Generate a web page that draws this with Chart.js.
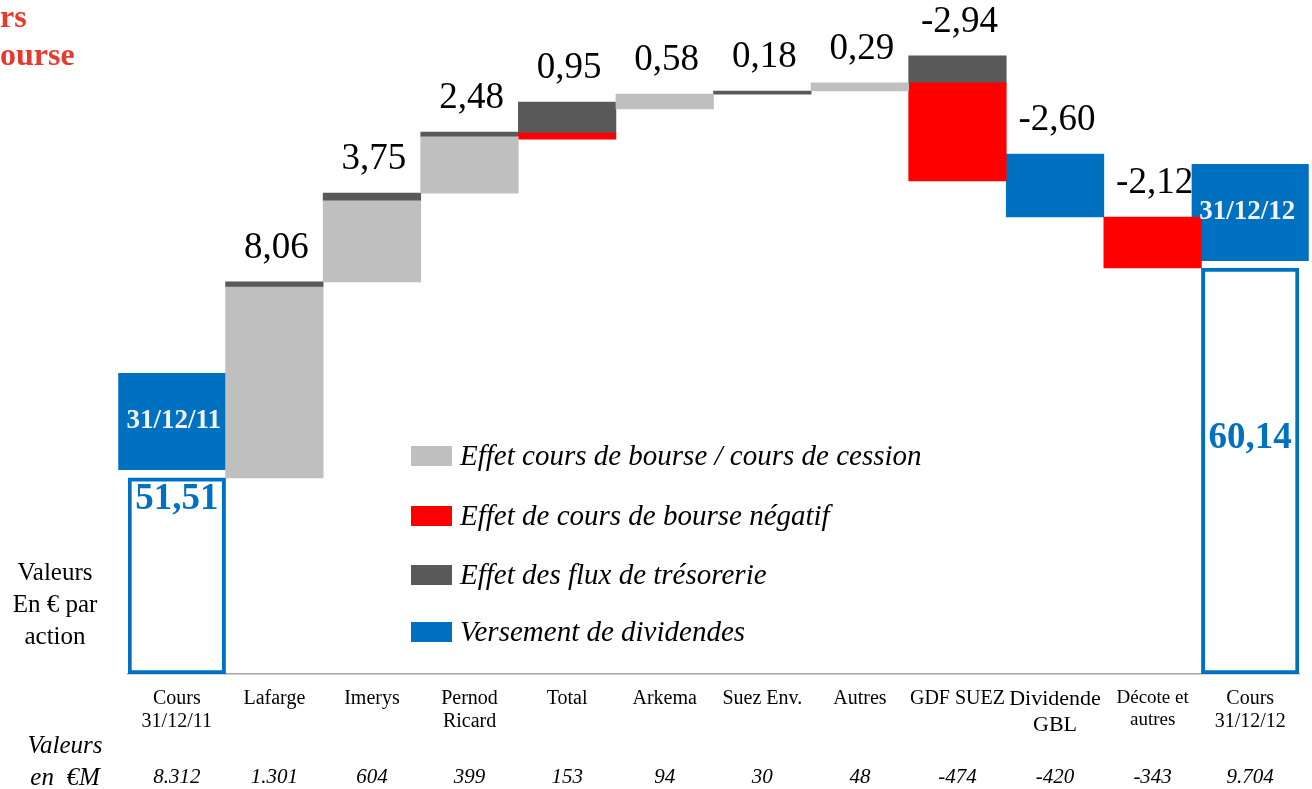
<!DOCTYPE html>
<html>
<head>
<meta charset="utf-8">
<script src="https://cdn.jsdelivr.net/npm/chart.js@4.4.1/dist/chart.umd.min.js"></script>
<style>
body { margin: 0; background: #fff; }
#wrap { position: relative; width: 1312px; height: 789px; overflow: hidden; font-family: 'Liberation Serif', 'Times New Roman', serif; }
canvas { position: absolute; left: 0; top: 0; }
.titre { position: absolute; left: 0; color: #E8392F; font-weight: bold; font-size: 32px; line-height: 36px; }
.cote { position: absolute; left: 0; width: 110px; text-align: center; font-size: 25px; line-height: 32px; color: #000; }
.em { font-style: italic; left: 10px; }
</style>
</head>
<body>
<div id="wrap">
  <canvas id="waterfall" width="1312" height="789"></canvas>
  <div class="titre" style="top:-2px">rs</div>
  <div class="titre" style="top:36px">ourse</div>
  <div class="cote" style="top:556px">Valeurs<br>En € par<br>action</div>
  <div class="cote em" style="top:729px">Valeurs<br>en&nbsp;&nbsp;€M</div>
</div>
<script>
// categories (tick labels)
const categories = [['Cours', '31/12/11'], 'Lafarge', 'Imerys', ['Pernod', 'Ricard'], 'Total', 'Arkema',
    'Suez Env.', 'Autres', 'GDF SUEZ', ['Dividende', 'GBL'], ['Décote et', 'autres'], ['Cours', '31/12/12']];

// variation par action (€) shown above each step
const variations = [null, 8.06, 3.75, 2.48, 0.95, 0.58, 0.18, 0.29, -2.94, -2.60, -2.12, null];

// valeurs en €M (bottom row)
const valeursEnMillions = ['8.312', '1.301', '604', '399', '153', '94', '30', '48', '-474', '-420', '-343', '9.704'];

// floating segments [bas, haut] in € per share
const coursBourse = [null, [51.51, 59.36], [59.57, 62.90], [63.22, 65.53], null, [66.68, 67.29], null,
    [67.42, 67.75], null, null, null, null];
const coursNegatif = [null, null, null, null, [65.44, 65.69], null, null, null, [63.72, 67.75], null,
    [60.14, 62.24], null];
const fluxTresorerie = [null, [59.36, 59.57], [62.90, 63.22], [65.53, 65.73], [65.69, 66.96], null,
    [67.29, 67.42], null, [67.75, 68.86], null, null, null];
const dividendes = [null, null, null, null, null, null, null, null, null, [62.24, 64.83], null, null];

// valeur de l'action au début / fin
const valeurAction = [[43.45, 51.51], null, null, null, null, null, null, null, null, null, null, [43.45, 60.14]];
const valeurTextes = ['51,51', '', '', '', '', '', '', '', '', '', '', '60,14'];
const dateBoites = [[51.84, 55.83], null, null, null, null, null, null, null, null, null, null, [60.43, 64.42]];
const dateTextes = ['31/12/11', '', '', '', '', '', '', '', '', '', '', '31/12/12'];

const yMin = 43.45;
const yMax = 71.16;

const serif = "'Liberation Serif', 'Times New Roman', serif";

// text labels drawn on top of the bars
const labelsPlugin = {
    id: 'labels',
    afterDatasetsDraw(chart) {
        const ctx = chart.ctx;
        const x = chart.scales.x;
        const y = chart.scales.y;
        ctx.save();
        ctx.textAlign = 'center';
        ctx.textBaseline = 'middle';

        // variation values above each step
        ctx.font = '37px ' + serif;
        ctx.fillStyle = '#000';
        variations.forEach(function(v, i) {
            if (v === null) return;
            var top = Math.max(...[coursBourse, coursNegatif, fluxTresorerie, dividendes]
                .filter(arr => arr[i]).map(arr => arr[i][1]));
            ctx.fillText(v.toFixed(2).replace('.', ','), x.getPixelForValue(i) + 2, y.getPixelForValue(top) - 34);
        });

        // values inside outline boxes
        var metaBox = chart.getDatasetMeta(4);
        var anchors = [0.11, 0.42];
        ctx.font = 'bold 37px ' + serif;
        ctx.fillStyle = '#0070C0';
        var k = 0;
        valeurTextes.forEach(function(t, i) {
            if (!t) return;
            var el = metaBox.data[i];
            ctx.fillText(t, el.x, el.y + (el.base - el.y) * anchors[k++]);
        });

        // dates in blue label boxes
        var metaDate = chart.getDatasetMeta(5);
        ctx.font = 'bold 27px ' + serif;
        ctx.fillStyle = '#F2F2F2';
        dateTextes.forEach(function(t, i) {
            if (!t) return;
            var el = metaDate.data[i];
            ctx.fillText(t, el.x - 3, (el.y + el.base) / 2);
        });

        // bottom row: valeurs en €M
        ctx.font = 'italic 21px ' + serif;
        ctx.fillStyle = '#000';
        valeursEnMillions.forEach(function(t, i) {
            ctx.fillText(t, x.getPixelForValue(i), 777);
        });

        // legend
        var rows = [456, 516, 575, 632];
        ctx.textAlign = 'left';
        ctx.font = 'italic 29px ' + serif;
        for (var d = 0; d < 4; d++) {
            var ds = chart.data.datasets[d];
            ctx.fillStyle = ds.backgroundColor;
            ctx.fillRect(411, rows[d] - 10, 41, 20);
            ctx.fillStyle = '#000';
            ctx.fillText(ds.label, 460, rows[d] + 1);
        }
        ctx.restore();
    }
};

new Chart(document.getElementById('waterfall'), {
    type: 'bar',
    data: {
        labels: categories,
        datasets: [{
            label: 'Effet cours de bourse / cours de cession',
            data: coursBourse,
            backgroundColor: '#BFBFBF'
        }, {
            label: 'Effet de cours de bourse négatif',
            data: coursNegatif,
            backgroundColor: '#FF0000'
        }, {
            label: 'Effet des flux de trésorerie',
            data: fluxTresorerie,
            backgroundColor: '#595959'
        }, {
            label: 'Versement de dividendes',
            data: dividendes,
            backgroundColor: '#0070C0'
        }, {
            label: 'Valeur',
            data: valeurAction,
            backgroundColor: '#FFFFFF',
            borderColor: '#0070C0',
            borderWidth: 4,
            borderSkipped: false
        }, {
            label: 'Date',
            data: dateBoites,
            backgroundColor: '#0070C0',
            barPercentage: 1.2,
            clip: false,
            order: 10
        }]
    },
    options: {
        responsive: false,
        animation: false,
        barPercentage: 1,
        categoryPercentage: 1,
        layout: { padding: { left: 128, right: 13, top: 0, bottom: 0 } },
        plugins: {
            legend: { display: false },
            tooltip: { enabled: false }
        },
        scales: {
            x: {
                stacked: true,
                grid: { display: false, drawTicks: false },
                border: { display: true, color: '#A6A6A6', width: 1.5 },
                ticks: {
                    color: '#000',
                    padding: 13,
                    maxRotation: 0,
                    autoSkip: false,
                    font: function(c) {
                        var size = 20;
                        if (c.index === 9) size = 22;
                        if (c.index === 10) size = 19;
                        return { family: serif, size: size, lineHeight: 1.15 };
                    }
                },
                afterFit: function(scale) {
                    scale.height = 115;
                }
            },
            y: {
                display: false,
                stacked: false,
                min: yMin,
                max: yMax
            }
        }
    },
    plugins: [labelsPlugin]
});
</script>
</body>
</html>
